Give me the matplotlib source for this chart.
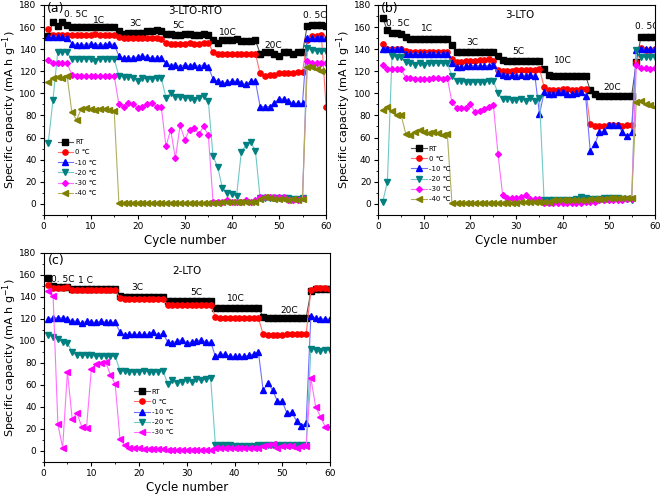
import matplotlib
matplotlib.use('Agg')
import matplotlib.pyplot as plt
from matplotlib.ticker import MultipleLocator

cycles = list(range(1, 61))

# (a) 3-LTO-RTO
a_rt = [152, 165, 161, 165, 162, 160, 160, 160, 160, 160, 160, 160, 160, 160, 160,
        156, 154, 155, 155, 155, 155, 156, 156, 157, 156, 154, 154, 153, 153, 154,
        154, 153, 153, 154, 153, 148, 146, 148, 148, 148, 149, 147, 147, 147, 148,
        136, 137, 137, 136, 134, 137, 137, 136, 137, 137, 161, 162, 162, 162, 161]
a_0 = [158, 153, 153, 153, 153, 153, 153, 153, 153, 153, 154, 153, 153, 153, 153,
       151, 150, 150, 150, 150, 150, 150, 150, 150, 149, 146, 145, 145, 145, 145,
       146, 145, 145, 146, 146, 137, 136, 136, 136, 136, 136, 136, 136, 136, 136,
       118, 116, 117, 117, 118, 118, 118, 118, 119, 119, 148, 152, 152, 153, 88]
a_10 = [151, 151, 151, 151, 150, 145, 144, 144, 144, 145, 144, 144, 144, 145, 144,
        134, 132, 132, 132, 133, 134, 133, 132, 132, 132, 127, 125, 126, 124, 126,
        125, 126, 124, 126, 124, 113, 111, 109, 110, 111, 111, 109, 108, 111, 111,
        88, 88, 88, 91, 95, 95, 93, 91, 91, 91, 150, 150, 150, 150, 150]
a_20 = [55, 94, 137, 137, 137, 131, 131, 131, 131, 131, 129, 131, 131, 131, 131,
        116, 115, 115, 114, 111, 114, 113, 113, 114, 114, 96, 100, 97, 97, 96,
        96, 94, 96, 98, 93, 43, 33, 14, 10, 9, 7, 47, 53, 56, 48,
        5, 5, 5, 5, 5, 5, 5, 4, 4, 5, 141, 139, 138, 138, 138]
a_30 = [130, 127, 127, 127, 127, 117, 116, 116, 116, 116, 116, 116, 116, 116, 116,
        90, 88, 91, 90, 87, 88, 90, 91, 88, 88, 52, 67, 41, 71, 58,
        67, 69, 63, 70, 62, 2, 2, 2, 3, 2, 2, 2, 3, 2, 3,
        6, 6, 6, 6, 6, 6, 3, 3, 3, 5, 129, 127, 127, 127, 127]
a_40 = [110, 114, 115, 114, 116, 83, 76, 86, 87, 86, 85, 86, 86, 85, 84,
        1, 1, 1, 1, 1, 1, 1, 1, 1, 1, 1, 1, 1, 1, 1,
        1, 1, 1, 1, 1, 1, 1, 2, 2, 2, 2, 2, 2, 2, 2,
        4, 6, 5, 4, 4, 4, 3, 4, 3, 4, 124, 124, 122, 120, 120]

# (b) 3-LTO
b_rt = [168, 157, 155, 155, 154, 151, 149, 149, 149, 149, 149, 149, 149, 149, 149,
        144, 137, 137, 137, 137, 137, 137, 137, 137, 137, 134, 130, 129, 129, 129,
        129, 129, 129, 129, 129, 122, 117, 116, 116, 116, 116, 116, 116, 116, 116,
        103, 99, 98, 98, 98, 98, 98, 98, 98, 98, 128, 151, 151, 151, 151]
b_0 = [145, 140, 140, 140, 140, 138, 137, 137, 137, 137, 137, 137, 137, 137, 137,
       131, 128, 128, 129, 129, 129, 130, 130, 131, 129, 121, 120, 120, 120, 121,
       121, 121, 121, 121, 122, 106, 103, 103, 103, 104, 104, 103, 103, 104, 104,
       72, 70, 70, 70, 71, 71, 71, 70, 71, 71, 128, 141, 139, 139, 140]
b_10 = [140, 140, 140, 140, 140, 136, 136, 136, 136, 136, 136, 136, 136, 136, 136,
        127, 124, 124, 125, 125, 125, 125, 125, 125, 126, 118, 117, 116, 117, 116,
        117, 116, 117, 116, 81, 101, 99, 99, 101, 101, 99, 99, 100, 101, 98,
        48, 54, 65, 66, 71, 71, 71, 65, 61, 65, 139, 140, 140, 140, 140]
b_20 = [2, 20, 134, 133, 133, 128, 127, 126, 127, 126, 127, 127, 127, 127, 127,
        116, 111, 111, 110, 110, 110, 110, 110, 111, 111, 100, 95, 95, 94, 94,
        95, 93, 96, 93, 96, 3, 3, 3, 3, 3, 3, 3, 4, 6, 5,
        4, 4, 4, 5, 5, 5, 5, 4, 4, 3, 139, 133, 133, 133, 133]
b_30 = [126, 122, 122, 122, 122, 114, 114, 113, 113, 113, 113, 114, 114, 113, 114,
        92, 87, 87, 87, 90, 83, 84, 86, 88, 89, 45, 8, 5, 5, 5,
        6, 8, 4, 4, 4, 1, 1, 1, 1, 1, 1, 1, 1, 1, 2,
        2, 2, 3, 3, 3, 3, 3, 3, 4, 4, 126, 123, 123, 122, 123]
b_40 = [85, 88, 84, 80, 80, 63, 62, 65, 67, 65, 64, 65, 64, 62, 63,
        1, 1, 1, 1, 1, 1, 1, 1, 1, 1, 1, 1, 1, 1, 1,
        2, 2, 2, 2, 2, 2, 2, 3, 3, 3, 3, 3, 3, 3, 3,
        4, 4, 4, 4, 5, 5, 5, 5, 5, 5, 92, 93, 90, 89, 88]

# (c) 2-LTO
c_rt = [157, 150, 149, 149, 149, 147, 147, 147, 147, 147, 147, 147, 147, 147, 147,
        141, 140, 140, 140, 140, 140, 140, 140, 140, 140, 136, 136, 136, 136, 136,
        136, 136, 136, 136, 136, 130, 130, 130, 130, 130, 130, 130, 130, 130, 130,
        122, 121, 121, 121, 121, 121, 121, 121, 121, 121, 145, 147, 147, 147, 147]
c_0 = [151, 148, 148, 148, 149, 146, 146, 146, 146, 146, 146, 146, 146, 146, 146,
       139, 138, 138, 138, 138, 138, 138, 138, 138, 138, 133, 133, 133, 133, 133,
       133, 133, 133, 133, 133, 122, 121, 121, 121, 121, 121, 121, 121, 121, 121,
       106, 105, 105, 105, 105, 106, 106, 106, 106, 106, 146, 148, 148, 148, 147]
c_10 = [120, 121, 121, 121, 120, 118, 118, 116, 118, 117, 117, 118, 117, 117, 117,
        108, 105, 106, 106, 106, 106, 106, 108, 105, 107, 99, 98, 100, 101, 98,
        99, 100, 101, 99, 99, 86, 88, 88, 86, 86, 86, 86, 87, 88, 90,
        55, 62, 55, 45, 45, 34, 35, 27, 23, 25, 123, 121, 120, 120, 120]
c_20 = [105, 104, 102, 99, 98, 90, 87, 87, 87, 87, 86, 86, 86, 86, 86,
        73, 73, 72, 72, 72, 73, 72, 72, 72, 73, 61, 64, 62, 63, 64,
        63, 65, 64, 65, 66, 5, 5, 5, 5, 4, 4, 4, 4, 4, 5,
        5, 5, 5, 5, 5, 5, 5, 5, 5, 5, 93, 92, 91, 92, 92]
c_30 = [145, 141, 24, 3, 72, 29, 34, 22, 21, 74, 79, 80, 81, 69, 61,
        11, 5, 3, 3, 3, 2, 2, 2, 2, 2, 1, 1, 1, 1, 1,
        1, 0.5, 0.5, 0.5, 1, 3, 3, 3, 3, 3, 3, 3, 3, 3, 3,
        4, 5, 6, 3, 4, 4, 4, 3, 4, 4, 66, 40, 31, 22, 22]

labels = ['RT', '0 ℃', '-10 ℃', '-20 ℃', '-30 ℃', '-40 ℃']
# (marker, marker colour, line colour)
styles = [('s', '#000000', '#555555'),
          ('o', '#ff0000', '#ff7070'),
          ('^', '#0000ff', '#7070ff'),
          ('v', '#008080', '#70c8c8'),
          ('D', '#ff00ff', '#ff70ff'),
          ('<', '#808000', '#b0b060')]

fig = plt.figure(figsize=(6.6, 4.95), dpi=100)
ax_a = fig.add_axes([0.066, 0.566, 0.428, 0.424])
ax_b = fig.add_axes([0.573, 0.566, 0.419, 0.424])
ax_c = fig.add_axes([0.066, 0.067, 0.434, 0.422])


def draw_panel(ax, series, legend_pos, markers=None):
    for i, ys in enumerate(series):
        m, mc, lc = styles[i]
        if markers is not None:
            m = markers[i]
        ms = 3.0 if m == 'D' else 3.8
        ax.plot(cycles, ys, color=lc, lw=0.8, marker=m, ms=ms,
                mfc=mc, mec=mc, label=labels[i])
    ax.set_xlim(0, 60)
    ax.set_ylim(-10, 180)
    ax.xaxis.set_major_locator(MultipleLocator(10))
    ax.xaxis.set_minor_locator(MultipleLocator(5))
    ax.yaxis.set_major_locator(MultipleLocator(20))
    ax.yaxis.set_minor_locator(MultipleLocator(10))
    ax.tick_params(which='both', direction='out', labelsize=6.5, top=False, right=False)
    ax.tick_params(which='major', length=3, pad=2)
    ax.tick_params(which='minor', length=1.5)
    ax.set_xlabel('Cycle number', fontsize=8.5, labelpad=2)
    ax.set_ylabel('Specific capacity (mA h g$^{-1}$)', fontsize=8, labelpad=0.5)
    ax.legend(loc='upper left', bbox_to_anchor=legend_pos, frameon=False,
              fontsize=5, handlelength=2.2, handletextpad=0.3,
              labelspacing=0.6, borderpad=0, borderaxespad=0)


draw_panel(ax_a, [a_rt, a_0, a_10, a_20, a_30, a_40], (0.05, 0.36))
draw_panel(ax_b, [b_rt, b_0, b_10, b_20, b_30, b_40], (0.12, 0.33))
draw_panel(ax_c, [c_rt, c_0, c_10, c_20, c_30], (0.317, 0.35),
           markers=['s', 'o', '^', 'v', '<'])

fs = 6.5
ax_a.text(0.6, 174, '(a)', fontsize=9)
ax_a.text(32.2, 172, '3-LTO-RTO', fontsize=7.5, ha='center')
for x, y, t in [(6.8, 169, '0. 5C'), (11.7, 164, '1C'), (19.5, 161, '3C'),
                (28.6, 159, '5C'), (39.2, 153, '10C'), (48.8, 141, '20C'),
                (57.7, 168, '0. 5C')]:
    ax_a.text(x, y, t, fontsize=fs, ha='center')

ax_b.text(0.6, 174, '(b)', fontsize=9)
ax_b.text(30.8, 168, '3-LTO', fontsize=7.5, ha='center')
for x, y, t in [(4.3, 161, '0. 5C'), (10.6, 156, '1C'), (20.4, 144, '3C'),
                (30.3, 136, '5C'), (40.1, 127, '10C'), (50.7, 103, '20C'),
                (58.3, 158, '0. 5C')]:
    ax_b.text(x, y, t, fontsize=fs, ha='center', clip_on=True)

ax_c.text(0.9, 170, '(c)', fontsize=9)
ax_c.text(30, 161, '2-LTO', fontsize=7.5, ha='center')
for x, y, t in [(4.0, 154, '0. 5C'), (8.7, 153, '1 C'), (19.7, 146, '3C'),
                (32.0, 142, '5C'), (40.3, 136, '10C'), (51.5, 125, '20C')]:
    ax_c.text(x, y, t, fontsize=fs, ha='center')

fig.savefig('out.png', dpi=100)
